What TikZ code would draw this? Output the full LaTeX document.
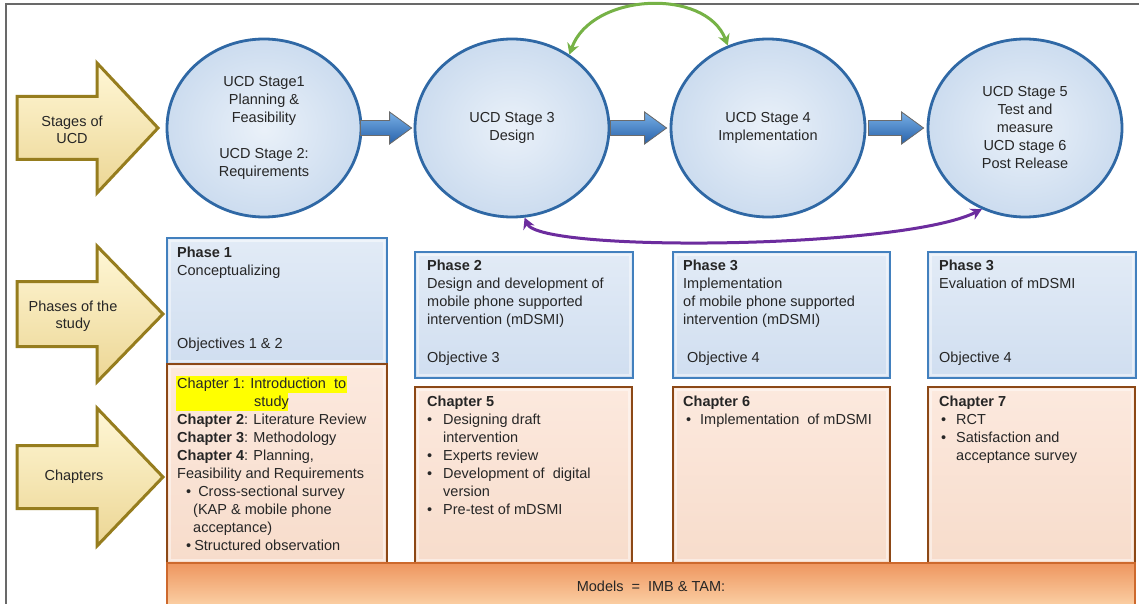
\documentclass[tikz,border=0pt]{standalone}
\usepackage{fontspec}
\setmainfont{Liberation Sans}
\usetikzlibrary{arrows.meta,calc,shapes.geometric}

\definecolor{ink}{RGB}{38,38,38}
\definecolor{frameln}{RGB}{105,105,105}
\definecolor{stageIn}{RGB}{234,241,249}
\definecolor{stageOut}{RGB}{204,220,239}
\definecolor{stageEdge}{RGB}{47,104,165}
\definecolor{phaseTop}{RGB}{226,235,246}
\definecolor{phaseBot}{RGB}{208,222,240}
\definecolor{phaseEdge}{RGB}{66,128,190}
\definecolor{chapTop}{RGB}{252,233,222}
\definecolor{chapBot}{RGB}{247,220,203}
\definecolor{chapEdge}{RGB}{140,72,22}
\definecolor{modelTop}{RGB}{238,150,95}
\definecolor{modelBot}{RGB}{252,212,170}
\definecolor{modelEdge}{RGB}{205,105,45}
\definecolor{gildTop}{RGB}{255,247,214}
\definecolor{gildBot}{RGB}{236,214,148}
\definecolor{gildEdge}{RGB}{150,125,30}
\definecolor{flowTop}{RGB}{120,175,230}
\definecolor{flowBot}{RGB}{40,98,170}
\definecolor{flowShade}{RGB}{70,70,70}
\definecolor{loopGreen}{RGB}{118,178,70}
\definecolor{loopPurple}{RGB}{108,44,158}
\definecolor{marker}{RGB}{255,255,0}

\tikzset{
  stage/.style={ellipse, draw=stageEdge, line width=2.8pt, inner color=stageIn,
    outer color=stageOut, minimum width=194pt, minimum height=178pt,
    inner sep=0pt, align=center},
  panel/.style={rectangle, inner sep=0pt, line width=2.6pt},
  phasebox/.style={panel, draw=phaseEdge, top color=phaseTop, bottom color=phaseBot},
  chapterbox/.style={panel, draw=chapEdge, top color=chapTop, bottom color=chapBot},
  modelbar/.style={panel, draw=modelEdge, top color=modelTop, bottom color=modelBot},
  bevel/.style={draw=white, opacity=.45, line width=2pt},
  blocktext/.style={anchor=north west, inner sep=0pt, align=left},
  gild/.style={top color=gildTop, bottom color=gildBot, draw=gildEdge,
    line width=3pt, line join=miter},
  sidelabel/.style={align=center, inner sep=0pt, font=\fontsize{14.5}{17}\selectfont},
  cycleback/.style={line width=3pt,
    {Stealth[length=11pt,width=12pt]}-{Stealth[length=11pt,width=12pt]}},
}

% yellow pointer on the left: centre y, shaft half height, head half height, tip x
\newcommand\sidearrow[4]{%
  \path[gild] (17,#1-#2) -- (97,#1-#2) -- (97,#1-#3) -- (#4,#1)
    -- (97,#1+#3) -- (97,#1+#2) -- (17,#1+#2) -- cycle;}

% blue block arrow from one stage to the next
\newcommand\flowarrow[2]{%
  \fill[flowShade, opacity=.85, shift={(2pt,-3pt)}] let \p1=(#1), \p2=(#2) in
    (\x1,\y1+7.5pt) -- (\x2-22pt,\y1+7.5pt) -- (\x2-22pt,\y1+16pt) -- (\x2,\y1)
    -- (\x2-22pt,\y1-16pt) -- (\x2-22pt,\y1-7.5pt) -- (\x1,\y1-7.5pt) -- cycle;
  \shade[top color=flowTop, bottom color=flowBot, draw=flowShade!80, line width=.8pt]
    let \p1=(#1), \p2=(#2) in
    (\x1,\y1+7.5pt) -- (\x2-22pt,\y1+7.5pt) -- (\x2-22pt,\y1+16pt) -- (\x2,\y1)
    -- (\x2-22pt,\y1-16pt) -- (\x2-22pt,\y1-7.5pt) -- (\x1,\y1-7.5pt) -- cycle;}

\begin{document}
\begin{tikzpicture}[x=1pt, y=-1pt, font=\fontsize{14.5}{18}\selectfont, text=ink]
\useasboundingbox (0,0) rectangle (1139,604);
\fill[white] (0,0) rectangle (1139,604);
\draw[frameln, line width=1.5pt] (6,604) -- (6,4) -- (1139,4);

% row labels
\sidearrow{128}{31.5}{65}{158}
\sidearrow{314}{32.5}{68}{163}
\sidearrow{477}{31.5}{69}{163}
\node[sidelabel] (lstages) at (72,130) {Stages of\\UCD};
\node[sidelabel] (lphases) at (73,316) {Phases of the\\study};
\node[sidelabel] (lchapters) at (74,477) {Chapters};

% UCD stages
\node[stage] (c1) at (264,128) {UCD Stage1\\Planning \&\\Feasibility\\[18pt]UCD Stage 2:\\Requirements};
\node[stage] (c2) at (512,128) {UCD Stage 3\\Design};
\node[stage] (c3) at (768,128) {UCD Stage 4\\Implementation};
\node[stage] (c4) at (1025,128) {UCD Stage 5\\Test and\\measure\\UCD stage 6\\Post Release};

\flowarrow{$(c1.east)+(-2,0)$}{$(c2.west)+(-2,0)$}
\flowarrow{c2.east}{$(c3.west)+(-3,0)$}
\flowarrow{$(c3.east)+(2,0)$}{$(c4.west)+(-3,0)$}

% iteration loops
\draw[cycleback, loopGreen] (c2.52) .. controls +(22,-62) and +(-22,-58) .. (c3.116);
\draw[cycleback, loopPurple] (c2.-82) .. controls +(15,35) and +(-80,40) .. (c4.-118);

% phases
\node[phasebox, minimum width=220pt, minimum height=126pt] (p1) at (277,301) {};
\node[phasebox, minimum width=218pt, minimum height=126pt] (p2) at (524,315) {};
\node[phasebox, minimum width=217pt, minimum height=126pt] (p3) at (781.5,315) {};
\node[phasebox, minimum width=208pt, minimum height=126pt] (p4) at (1032,315) {};

% chapters
\node[chapterbox, minimum width=220pt, minimum height=199pt] (ch1) at (277,463.5) {};
\node[chapterbox, minimum width=217pt, minimum height=176pt] (ch5) at (523.5,475) {};
\node[chapterbox, minimum width=217pt, minimum height=176pt] (ch6) at (781.5,475) {};
\node[chapterbox, minimum width=207pt, minimum height=176pt] (ch7) at (1031.5,475) {};

\foreach \b in {p1,p2,p3,p4,ch1,ch5,ch6,ch7}
  \draw[bevel] ($(\b.north west)+(4,4)$) rectangle ($(\b.south east)+(-4,-4)$);

% models bar
\node[modelbar, minimum width=968pt, minimum height=46pt] (models) at (651,586)
  {Models\ \ =\ \ IMB \& TAM:};

% phase texts
\node[blocktext] (p1head) at (177,247) {\textbf{Phase 1}\\Conceptualizing};
\node[blocktext] (p1obj) at (177,338) {Objectives 1 \& 2};
\node[blocktext] (p2head) at (427,260) {\textbf{Phase 2}\\Design and development\ of\\mobile phone supported\\intervention\ (mDSMI)};
\node[blocktext] (p2obj) at (427,352) {Objective 3};
\node[blocktext] (p3head) at (683,260) {\textbf{Phase 3}\\Implementation\\of mobile phone supported\\intervention\ (mDSMI)};
\node[blocktext] (p3obj) at (687,352) {Objective 4};
\node[blocktext] (p4head) at (939,260) {\textbf{Phase 3}\\Evaluation of mDSMI};
\node[blocktext] (p4obj) at (939,352) {Objective 4};

% chapter texts
\fill[marker] (176,376) rectangle (347,393);
\fill[marker] (176,393) rectangle (288,411);
\node[blocktext] (ch1text) at (177,378) {Chapter 1: Introduction\ \ to\\
  \hspace*{77pt}study\\
  \textbf{Chapter 2}: Literature Review\\
  \textbf{Chapter 3}: Methodology\\
  \textbf{Chapter 4}: Planning,\\
  Feasibility and Requirements\\
  \hspace*{9pt}\textbullet\hspace{7pt}Cross-sectional survey\\
  \hspace*{16pt}(KAP \& mobile phone\\
  \hspace*{16pt}acceptance)\\
  \hspace*{9pt}\textbullet\hspace{3pt}Structured\ observation};
\node[blocktext] (ch5text) at (427,396) {\textbf{Chapter 5}\\
  \makebox[16pt][l]{\textbullet}Designing draft\\
  \hspace*{16pt}intervention\\
  \makebox[16pt][l]{\textbullet}Experts review\\
  \makebox[16pt][l]{\textbullet}Development of\ \ digital\\
  \hspace*{16pt}version\\
  \makebox[16pt][l]{\textbullet}Pre-test of mDSMI};
\node[blocktext] (ch6text) at (683,396) {\textbf{Chapter 6}\\
  \hspace*{3pt}\makebox[14pt][l]{\textbullet}Implementation\ \ of mDSMI};
\node[blocktext] (ch7text) at (939,396) {\textbf{Chapter 7}\\
  \hspace*{2pt}\makebox[15pt][l]{\textbullet}RCT\\
  \hspace*{2pt}\makebox[15pt][l]{\textbullet}Satisfaction and\\
  \hspace*{17pt}acceptance survey};
\end{tikzpicture}
\end{document}
